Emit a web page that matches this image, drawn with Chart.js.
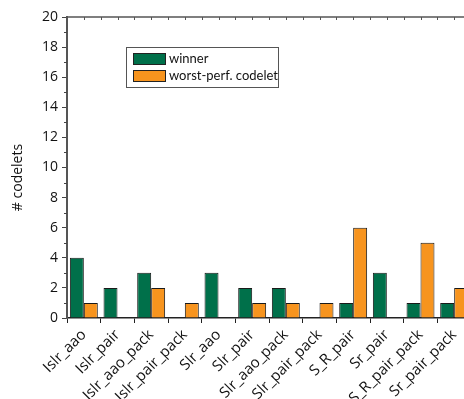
<!DOCTYPE html>
<html>
<head>
<meta charset="utf-8">
<script src="https://cdn.jsdelivr.net/npm/chart.js@4/dist/chart.umd.min.js"></script>
<style>
html,body{margin:0;padding:0;overflow:hidden;background:#fff;}
canvas{display:block;}
</style>
</head>
<body>
<canvas id="c" width="476" height="399"></canvas>
<script>
const categories = ["Islr_aao","Islr_pair","Islr_aao_pack","Islr_pair_pack","Slr_aao","Slr_pair","Slr_aao_pack","Slr_pair_pack","S_R_pair","Sr_pair","S_R_pair_pack","Sr_pair_pack"];
const winner = [4,2,3,0,3,2,2,0,1,3,1,1];
const worstPerf = [1,0,2,1,0,1,1,1,6,0,5,2];
const seriesNames = ["winner","worst-perf. codelet"];
const yTicks = [0,2,4,6,8,10,12,14,16,18,20];
const yTitle = "# codelets";

const GREEN = "#00704A";
const ORANGE = "#F7941E";

const frame = {
  id: "frame",
  afterDraw(chart) {
    const ctx = chart.ctx;
    const a = chart.chartArea;
    const y = chart.scales.y;
    ctx.save();
    // top border line
    ctx.strokeStyle = "#555";
    ctx.lineWidth = 1.5;
    ctx.beginPath();
    ctx.moveTo(a.left, a.top);
    ctx.lineTo(chart.width, a.top);
    ctx.stroke();
    // top ticks (boundaries + centers), pointing inward
    const n = categories.length;
    const w = (a.right - a.left) / n;
    ctx.lineWidth = 1;
    ctx.beginPath();
    for (let i = 0; i <= 2 * n; i++) {
      const px = Math.round(a.left + i * w / 2) + 0.5;
      ctx.moveTo(px, a.top);
      ctx.lineTo(px, a.top + 3);
    }
    ctx.stroke();
    // y minor ticks
    ctx.strokeStyle = "#444";
    ctx.beginPath();
    for (let v = 1; v < 20; v += 2) {
      const py = Math.round(y.getPixelForValue(v)) + 0.5;
      ctx.moveTo(a.left - 3, py);
      ctx.lineTo(a.left, py);
    }
    ctx.stroke();
    // y title
    ctx.save();
    ctx.translate(18, 177.5);
    ctx.rotate(-Math.PI / 2);
    ctx.font = "14px 'Open Sans'";
    ctx.fillStyle = "#111";
    ctx.textAlign = "center";
    ctx.textBaseline = "middle";
    ctx.fillText(yTitle, 0, 0);
    ctx.restore();
    // legend
    const lx = 126.5, ly = 47.5, lw = 152, lh = 40;
    ctx.fillStyle = "#fff";
    ctx.fillRect(lx, ly, lw, lh);
    ctx.strokeStyle = "#555";
    ctx.lineWidth = 1;
    ctx.strokeRect(lx, ly, lw, lh);
    ctx.font = "13px Lato";
    ctx.textBaseline = "middle";
    chart.data.datasets.forEach((ds, i) => {
      const sy = 53.5 + i * 17;
      ctx.fillStyle = ds.backgroundColor;
      ctx.fillRect(133.5, sy, 32, 11);
      ctx.strokeStyle = "#222";
      ctx.strokeRect(133.5, sy, 32, 11);
      ctx.fillStyle = "#111";
      ctx.fillText(ds.label, 169, sy + 5.5);
    });
    ctx.restore();
  }
};

new Chart(document.getElementById("c"), {
  type: "bar",
  data: {
    labels: categories,
    datasets: [
      { label: seriesNames[0], data: winner, backgroundColor: GREEN, borderColor: "#1a1a1a", borderWidth: 1 },
      { label: seriesNames[1], data: worstPerf, backgroundColor: ORANGE, borderColor: "#1a1a1a", borderWidth: 1 }
    ]
  },
  options: {
    responsive: false,
    animation: false,
    layout: { padding: { top: 17, right: 5, left: 0, bottom: 0 } },
    datasets: { bar: { categoryPercentage: 0.83, barPercentage: 1.0 } },
    plugins: { legend: { display: false }, tooltip: { enabled: false } },
    scales: {
      x: {
        type: "category",
        offset: true,
        grid: { offset: true, drawOnChartArea: false, drawTicks: true, tickLength: 5, tickColor: "#222", tickWidth: 1 },
        border: { display: true, color: "#222", width: 1.5 },
        ticks: { autoSkip: false, maxRotation: 45, minRotation: 45, padding: 3, color: "#111", font: { family: "Open Sans", size: 15 } },
        afterFit(s) { s.height = 81; }
      },
      y: {
        min: 0, max: 20,
        afterBuildTicks(s) { s.ticks = yTicks.map(v => ({ value: v })); },
        grid: { drawOnChartArea: false, drawTicks: true, tickLength: 5, tickColor: "#444", tickWidth: 1 },
        border: { display: true, color: "#555", width: 2 },
        ticks: { padding: 4, color: "#111", font: { family: "Open Sans", size: 14 } },
        afterFit(s) { s.width = 67; }
      }
    }
  },
  plugins: [frame]
});
</script>
</body>
</html>
